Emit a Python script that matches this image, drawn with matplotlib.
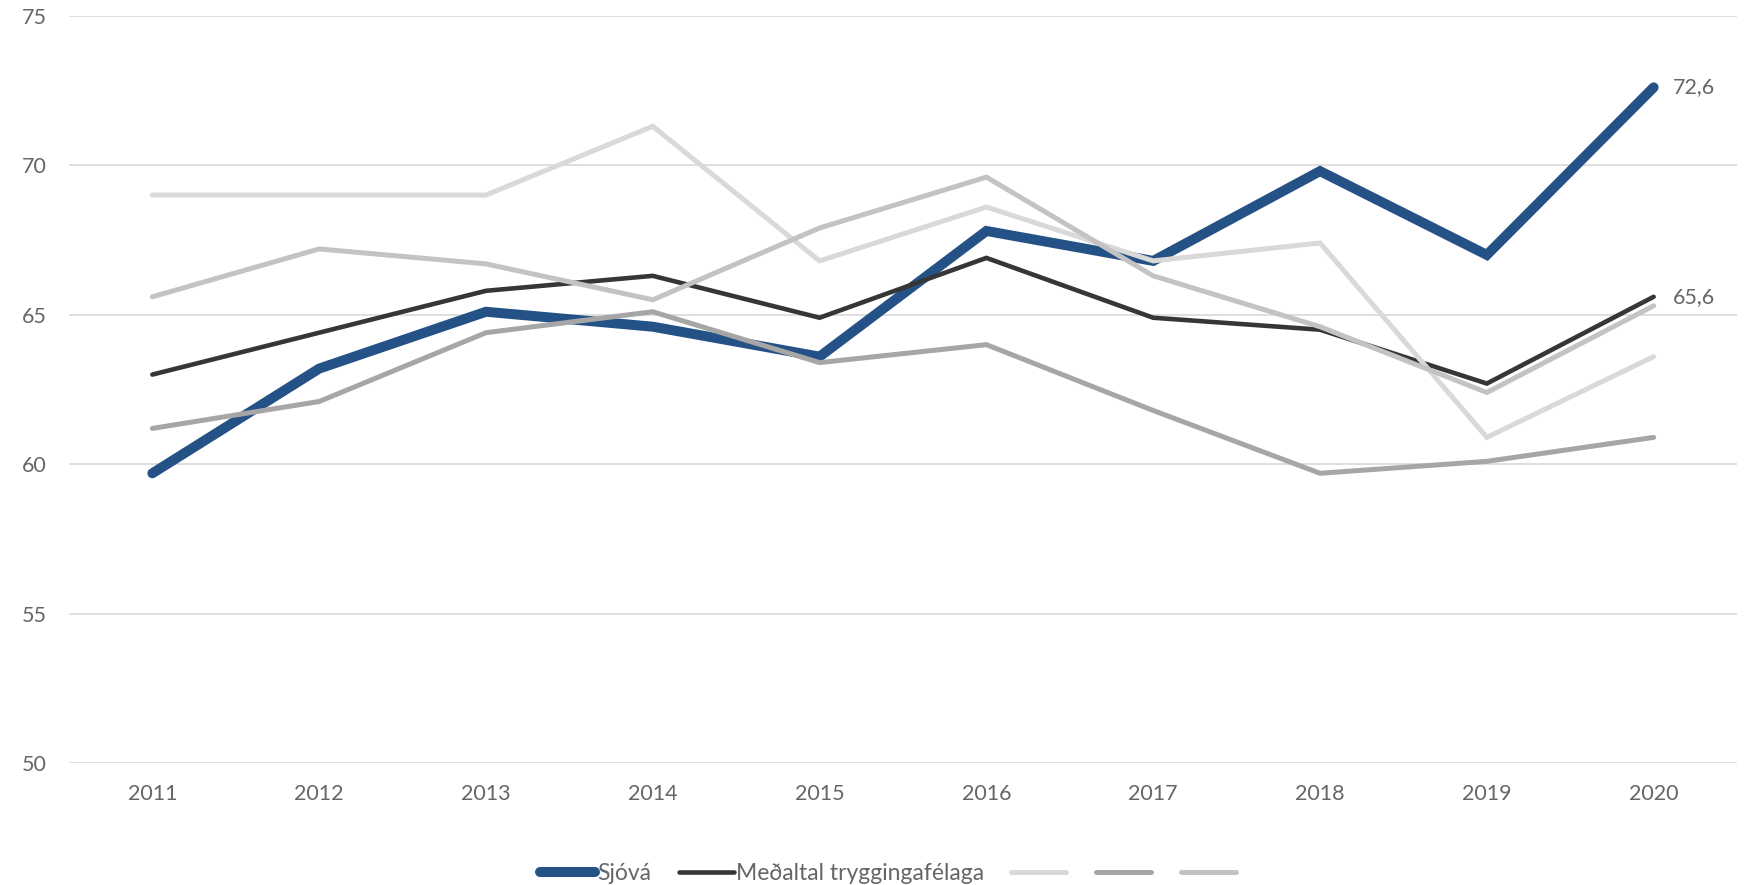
import matplotlib
matplotlib.use('Agg')
import matplotlib.pyplot as plt
from matplotlib.lines import Line2D

plt.rcParams['font.family'] = ['Lato', 'DejaVu Sans']

years = ['2011', '2012', '2013', '2014', '2015', '2016', '2017', '2018', '2019', '2020']
sjova = [59.7, 63.2, 65.1, 64.6, 63.6, 67.8, 66.8, 69.8, 67.0, 72.6]
medaltal = [63.0, 64.4, 65.8, 66.3, 64.9, 66.9, 64.9, 64.5, 62.7, 65.6]
other_a = [69.0, 69.0, 69.0, 71.3, 66.8, 68.6, 66.8, 67.4, 60.9, 63.6]
other_b = [61.2, 62.1, 64.4, 65.1, 63.4, 64.0, 61.8, 59.7, 60.1, 60.9]
other_c = [65.6, 67.2, 66.7, 65.5, 67.9, 69.6, 66.3, 64.6, 62.4, 65.3]

series_labels = ['Sjóvá', 'Meðaltal tryggingafélaga', '', '', '']
colors = ['#255286', '#363636', '#d9d9d9', '#a6a6a6', '#c3c3c3']
widths = [7.2, 3.3, 3.6, 3.6, 3.6]
yticks = [50, 55, 60, 65, 70, 75]

text_col = '#666666'
fs = 15.5

fig = plt.figure(figsize=(17.5, 8.85), dpi=100)
ax = fig.add_axes([0.0394, 0.1373, 0.9532, 0.8451])

x = list(range(len(years)))
all_series = [sjova, medaltal, other_a, other_b, other_c]
handles = []
for i, (vals, c, w) in enumerate(zip(all_series, colors, widths)):
    ax.plot(x, vals, color=c, lw=w, solid_capstyle='round',
            solid_joinstyle='miter', zorder=3 + i)
    handles.append(Line2D([0], [0], color=c, lw=w, solid_capstyle='round'))

# end-point labels
for vals in (sjova, medaltal):
    ax.annotate(f"{vals[-1]:.1f}".replace('.', ','), (x[-1], vals[-1]),
                xytext=(14, 0), textcoords='offset points', va='center',
                ha='left', fontsize=fs, color=text_col)

ax.set_xlim(-0.5, len(years) - 0.5)
ax.set_ylim(50, 75)
ax.set_yticks(yticks)
ax.set_xticks(x)
ax.set_xticklabels(years)
ax.grid(axis='y', color='#d9d9d9', lw=1.2, zorder=0)
ax.set_axisbelow(True)
for s in ax.spines.values():
    s.set_visible(False)
ax.tick_params(axis='both', length=0, labelsize=fs, labelcolor=text_col)
ax.tick_params(axis='y', pad=16)
ax.tick_params(axis='x', pad=15)

fig.legend(handles, series_labels, loc='center', bbox_to_anchor=(0.508, 0.013),
           ncol=5, frameon=False, fontsize=fs + 1, handlelength=2.4,
           handletextpad=0.1, columnspacing=1.2, labelcolor=text_col)

fig.savefig('out.png', dpi=100)
